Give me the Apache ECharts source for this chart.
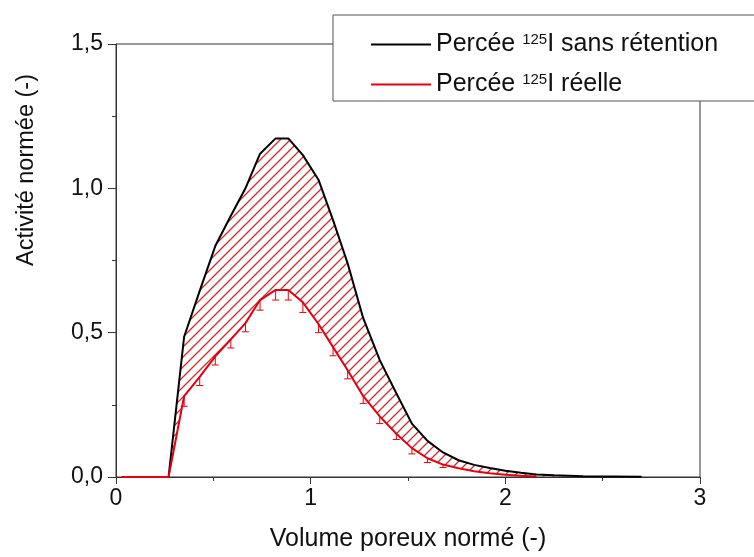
<!DOCTYPE html>
<html>
<head>
<meta charset="utf-8">
<script src="https://cdn.jsdelivr.net/npm/echarts@6/dist/echarts.min.js"></script>
<style>
  html, body { margin: 0; padding: 0; background: #fff; }
  #main { width: 754px; height: 557px; }
</style>
</head>
<body>
<div id="main"></div>
<script>
// volume poreux normé (shared by both curves)
const poreVolume = [0.03, 0.27, 0.35, 0.43, 0.51, 0.59, 0.665, 0.74, 0.82, 0.885, 0.96, 1.04, 1.115, 1.19, 1.27,
  1.355, 1.44, 1.52, 1.60, 1.68, 1.76, 1.84, 1.92, 2.0, 2.08, 2.16, 2.25, 2.4, 2.55, 2.7];
// Percée 125I sans rétention
const noRetention = [0, 0, 0.486, 0.645, 0.80, 0.905, 1.0, 1.12, 1.173, 1.173, 1.115, 1.03, 0.89, 0.74, 0.55,
  0.405, 0.29, 0.185, 0.125, 0.085, 0.058, 0.042, 0.031, 0.022, 0.015, 0.009, 0.006, 0.003, 0.002, 0.001];
// Percée 125I réelle
const measured = [0, 0, 0.28, 0.347, 0.418, 0.477, 0.533, 0.613, 0.648, 0.648, 0.605, 0.53, 0.45, 0.37, 0.28,
  0.21, 0.15, 0.10, 0.065, 0.043, 0.03, 0.02, 0.013, 0.008, 0.004, 0.002, null, null, null, null];
// error bar (below the point)
const measuredErr = [0, 0, 0.035, 0.03, 0.03, 0.03, 0.03, 0.035, 0.035, 0.035, 0.035, 0.03, 0.03, 0.03, 0.025,
  0.025, 0.02, 0.02, 0.015, 0.01, 0, 0, 0, 0, 0, 0, 0, 0, 0, 0];

const xTicks = [0, 1, 2, 3];
const yTicks = [0, 0.5, 1.0, 1.5];

const FONT = 'Liberation Sans, Arial, Helvetica, sans-serif';
const RED = '#e3000f';

// hatch tile
function makeHatch() {
  const c = document.createElement('canvas');
  c.width = 10; c.height = 10;
  const ctx = c.getContext('2d');
  ctx.strokeStyle = '#d02c2c';
  ctx.lineWidth = 1.3;
  ctx.beginPath();
  ctx.moveTo(-5, 5); ctx.lineTo(5, -5);
  ctx.moveTo(0, 10); ctx.lineTo(10, 0);
  ctx.moveTo(5, 15); ctx.lineTo(15, 5);
  ctx.stroke();
  return c;
}
const hatch = makeHatch();

const chart = echarts.init(document.getElementById('main'), null, { renderer: 'canvas' });

const axisColor = '#333';

const option = {
  backgroundColor: '#ffffff',
  animation: false,
  grid: {
    left: 116, right: 54, top: 44, bottom: 80,
    show: true, borderColor: axisColor, borderWidth: 1, backgroundColor: 'transparent'
  },
  legend: {
    data: ['Percée 125I sans rétention', 'Percée 125I réelle'],
    orient: 'vertical',
    left: 333, top: 15,
    backgroundColor: '#fff',
    borderColor: '#555', borderWidth: 1,
    padding: [17, 60, 4, 38],
    itemWidth: 60, itemHeight: 2, itemGap: 15,
    icon: 'rect',
    textStyle: {
      fontFamily: FONT, fontSize: 25, color: '#111',
      rich: {
        sup: { fontFamily: FONT, fontSize: 15, color: '#111', verticalAlign: 'top', lineHeight: 14 }
      }
    },
    formatter: function (name) {
      return name.replace('125', '{sup|125}');
    }
  },
  xAxis: {
    type: 'value', min: 0, max: 3, interval: 1,
    name: 'Volume poreux normé (-)', nameLocation: 'middle', nameGap: 50,
    nameTextStyle: { fontFamily: FONT, fontSize: 25, color: '#111' },
    axisLine: { lineStyle: { color: axisColor } },
    axisTick: { show: true, length: 7, lineStyle: { color: axisColor } },
    minorTick: { show: true, splitNumber: 2, length: 4, lineStyle: { color: axisColor } },
    splitLine: { show: false },
    axisLabel: {
      margin: 10, fontFamily: FONT, fontSize: 23, color: '#111',
      formatter: function (v) { return xTicks.indexOf(v) >= 0 ? String(v) : ''; }
    }
  },
  yAxis: {
    type: 'value', min: 0, max: 1.5, interval: 0.5,
    axisLine: { show: true, lineStyle: { color: axisColor } },
    axisTick: { show: true, length: 8, lineStyle: { color: axisColor } },
    minorTick: { show: true, splitNumber: 2, length: 4, lineStyle: { color: axisColor } },
    splitLine: { show: false },
    axisLabel: {
      margin: 13, fontFamily: FONT, fontSize: 23, color: '#111',
      formatter: function (v) {
        return yTicks.some(t => Math.abs(t - v) < 1e-9) ? v.toFixed(1).replace('.', ',') : '';
      }
    }
  },
  graphic: [{
    type: 'text',
    x: 27, y: 170, rotation: Math.PI / 2,
    style: {
      text: 'Activité normée (-)', fontFamily: FONT, fontSize: 23.5, fill: '#111',
      textAlign: 'center', textVerticalAlign: 'middle'
    }
  }],
  series: [
    {
      name: 'hatch',
      type: 'custom',
      silent: true,
      z: 1,
      data: [[0, 0]],
      renderItem: function (params, api) {
        if (params.dataIndex !== 0) return null;
        const pts = [];
        for (let i = 0; i < poreVolume.length; i++) {
          pts.push(api.coord([poreVolume[i], noRetention[i]]));
        }
        for (let i = poreVolume.length - 1; i >= 0; i--) {
          pts.push(api.coord([poreVolume[i], measured[i] == null ? 0 : measured[i]]));
        }
        return {
          type: 'polygon',
          shape: { points: pts },
          style: { fill: { image: hatch, repeat: 'repeat' }, stroke: null }
        };
      }
    },
    {
      name: 'Percée 125I sans rétention',
      type: 'line',
      data: poreVolume.map((x, i) => [x, noRetention[i]]),
      symbol: 'none',
      color: '#000',
      lineStyle: { color: '#000', width: 2 },
      z: 3
    },
    {
      name: 'Percée 125I réelle',
      type: 'line',
      data: poreVolume.map((x, i) => [x, measured[i]]),
      symbol: 'none',
      color: RED,
      lineStyle: { color: RED, width: 2 },
      z: 4
    },
    {
      name: 'erreur',
      type: 'custom',
      silent: true,
      z: 4,
      data: poreVolume.map((x, i) => [x, measured[i], measuredErr[i]])
        .filter(d => d[1] != null && d[2] > 0),
      renderItem: function (params, api) {
        const top = api.coord([api.value(0), api.value(1)]);
        const bot = api.coord([api.value(0), api.value(1) - api.value(2)]);
        const w = 3.5;
        return {
          type: 'group',
          children: [
            { type: 'line', shape: { x1: top[0], y1: top[1], x2: bot[0], y2: bot[1] },
              style: { stroke: RED, lineWidth: 1 } },
            { type: 'line', shape: { x1: bot[0] - w, y1: bot[1], x2: bot[0] + w, y2: bot[1] },
              style: { stroke: RED, lineWidth: 1 } }
          ]
        };
      }
    }
  ]
};

chart.setOption(option);
</script>
</body>
</html>
